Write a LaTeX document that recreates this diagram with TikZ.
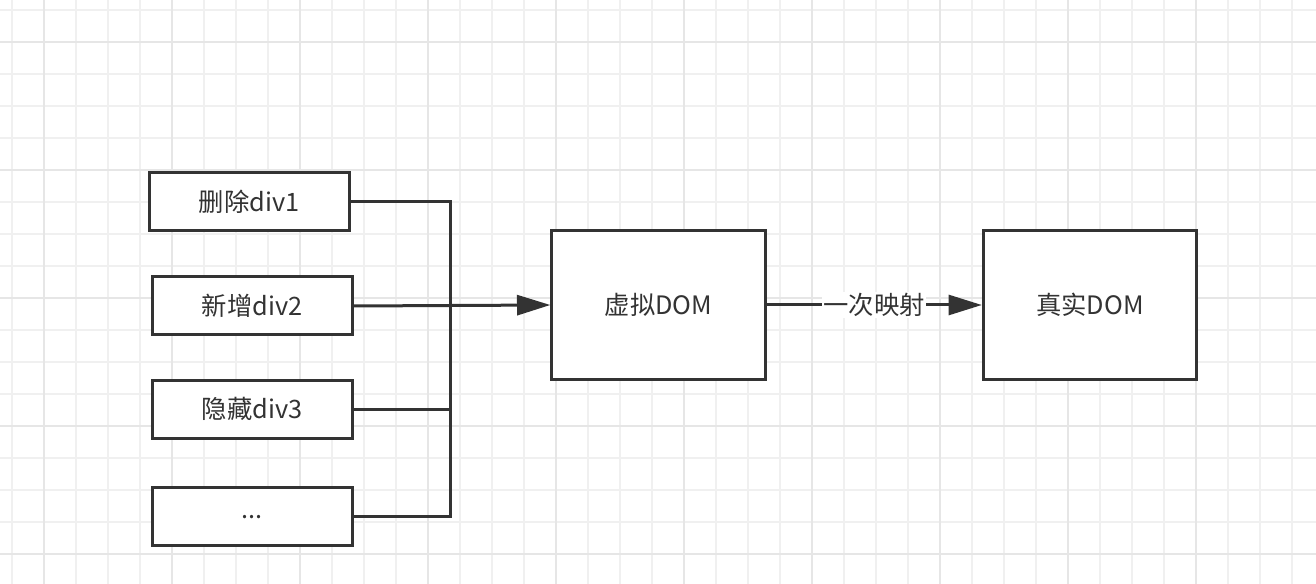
\documentclass[tikz,border=0pt]{standalone}
\usepackage{fontspec}
\setmainfont{Noto Sans CJK SC}
\usetikzlibrary{arrows.meta}

\definecolor{ink}{RGB}{51,51,51}
\definecolor{gridminor}{RGB}{240,240,240}
\definecolor{gridmajor}{RGB}{230,230,230}

\tikzset{every picture/.style={line width=0.75pt}}
\tikzset{
  box/.style={draw=ink, line width=2.25pt, fill=white, text=ink, inner sep=0pt,
              font=\fontsize{19}{23}\selectfont},
  smallbox/.style={box, minimum width=150pt, minimum height=43.5pt},
  bigbox/.style={box, minimum width=160pt, minimum height=112pt},
  link/.style={draw=ink, line width=2.25pt},
  linkarrow/.style={link, -{Triangle[length=25pt, width=15pt]}}
}

\begin{document}
\begin{tikzpicture}[x=0.75pt, y=0.75pt, yscale=-1, xscale=1]

    \useasboundingbox (0,0) rectangle (1316,584);
    \fill [white] (0,0) rectangle (1316,584);

    % grid
    \foreach \x in {12,44,...,1316} {
      \draw [gridminor, line width=1.5pt] (\x,0) -- (\x,584);
    }
    \foreach \y in {10,42,...,584} {
      \draw [gridminor, line width=1.5pt] (0,\y) -- (1316,\y);
    }
    \foreach \x in {44,172,...,1316} {
      \draw [gridmajor, line width=1.5pt] (\x,0) -- (\x,584);
    }
    \foreach \y in {42,170,...,584} {
      \draw [gridmajor, line width=1.5pt] (0,\y) -- (1316,\y);
    }

    % left column of changes
    \node [smallbox] (del)  at (249,202) {删除div1};
    \node [smallbox] (add)  at (252,306) {新增div2};
    \node [smallbox] (hide) at (252,409) {隐藏div3};
    \node [smallbox] (more) at (252,516) {\raisebox{-4pt}{...}};

    % dom boxes
    \node [bigbox] (vdom) at (658.5,305) {虚拟DOM};
    \node [bigbox] (rdom) at (1090,305) {真实DOM};

    % bus
    \coordinate (bus) at (450,305);

    % Line del/more - bus
    \draw [link] (del.east) -- (del.east -| bus) -- (more.east -| bus) -- (more.east);

    % Line hide - bus
    \draw [link] (hide.east) -- (hide.east -| bus);

    % Line add - vdom
    \draw [linkarrow] (add.east) -- (vdom.west);

    % Line vdom - rdom
    \draw [linkarrow] (vdom.east) -- (rdom.west)
          node [midway, fill=white, text=ink, inner sep=1pt,
                font=\fontsize{19}{23}\selectfont] (map) {一次映射};

\end{tikzpicture}
\end{document}
